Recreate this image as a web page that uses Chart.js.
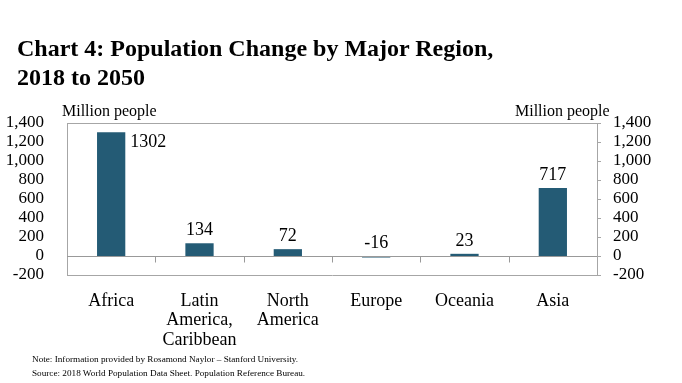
<!DOCTYPE html>
<html>
<head>
<meta charset="utf-8">
<script src="https://cdn.jsdelivr.net/npm/chart.js@4.4.0/dist/chart.umd.min.js"></script>
<style>
  html, body { margin: 0; padding: 0; background: #ffffff; }
  #wrap { position: relative; width: 682px; height: 383px; overflow: hidden; font-family: "Liberation Serif", "DejaVu Serif", serif; color: #000; }
  #chart { position: absolute; left: 0; top: 0; }
  .title { position: absolute; left: 17px; top: 34px; font-weight: bold; font-size: 24px; line-height: 29px; white-space: nowrap; }
  .unit { position: absolute; top: 102px; font-size: 16px; white-space: nowrap; }
  .note { position: absolute; left: 32px; font-size: 9.2px; white-space: nowrap; }
</style>
</head>
<body>
<div id="wrap">
  <canvas id="chart" width="682" height="383"></canvas>
  <div class="title">Chart 4: Population Change by Major Region,<br>2018 to 2050</div>
  <div class="unit" style="left:62px;">Million people</div>
  <div class="unit" style="left:515px;">Million people</div>
  <div class="note" style="top:354px;">Note: Information provided by Rosamond Naylor – Stanford University.</div>
  <div class="note" style="top:368px;">Source: 2018 World Population Data Sheet. Population Reference Bureau.</div>
</div>
<script>
const categories = [["Africa"], ["Latin", "America,", "Caribbean"], ["North", "America"], ["Europe"], ["Oceania"], ["Asia"]];
const populationChange = [1302, 134, 72, -16, 23, 717];
const tickValues = [-200, 0, 200, 400, 600, 800, 1000, 1200, 1400];

const BAR_COLOR = "#245b75";
const BOX_COLOR = "#a6a6a6";
const ZERO_COLOR = "#999999";
const FONT = "'Liberation Serif', 'DejaVu Serif', serif";

const framePlugin = {
  id: "frame",
  afterDatasetsDraw(chart) {
    const { ctx, chartArea, scales } = chart;
    const x = scales.x, y = scales.y;
    ctx.save();
    ctx.strokeStyle = BOX_COLOR;
    ctx.lineWidth = 1;
    ctx.beginPath();
    ctx.moveTo(chartArea.left, Math.round(chartArea.top) + 0.5);
    ctx.lineTo(chartArea.right, Math.round(chartArea.top) + 0.5);
    ctx.stroke();
    const y0 = Math.round(y.getPixelForValue(0)) + 0.5;
    ctx.strokeStyle = ZERO_COLOR;
    ctx.beginPath();
    ctx.moveTo(chartArea.left, y0);
    ctx.lineTo(chartArea.right, y0);
    for (let i = 1; i < categories.length; i++) {
      const bx = Math.round((x.getPixelForValue(i - 1) + x.getPixelForValue(i)) / 2) + 0.5;
      ctx.moveTo(bx, y0);
      ctx.lineTo(bx, y0 + 6);
    }
    ctx.stroke();
    ctx.fillStyle = "#000";
    ctx.font = "18px " + FONT;
    const meta = chart.getDatasetMeta(0);
    meta.data.forEach((bar, i) => {
      const v = populationChange[i];
      const top = Math.min(bar.y, bar.base);
      const txt = String(v);
      ctx.textBaseline = "middle";
      if (top - 24 < chartArea.top) {
        ctx.textAlign = "left";
        ctx.fillText(txt, bar.x + bar.width / 2 + 5, top + 10);
      } else {
        ctx.textAlign = "center";
        ctx.fillText(txt, bar.x, top - 13);
      }
    });
    ctx.restore();
  }
};

const fmt = v => v.toLocaleString("en-US");

new Chart(document.getElementById("chart"), {
  type: "bar",
  data: {
    labels: categories,
    datasets: [{
      data: populationChange,
      backgroundColor: BAR_COLOR,
      borderWidth: 0,
      categoryPercentage: 1.0,
      barPercentage: 0.32,
      yAxisID: "y"
    }]
  },
  options: {
    responsive: false,
    animation: false,
    devicePixelRatio: 1,
    layout: { padding: { left: 0, right: 0, top: 123, bottom: 0 } },
    plugins: { legend: { display: false }, tooltip: { enabled: false }, title: { display: false } },
    scales: {
      x: {
        grid: { display: false },
        border: { display: true, color: BOX_COLOR },
        ticks: { color: "#000", font: { family: FONT, size: 18, lineHeight: 1.1 }, padding: 8, maxRotation: 0, autoSkip: false },
        afterFit(scale) { scale.height = 108; }
      },
      y: {
        position: "left",
        min: -200, max: 1400,
        afterBuildTicks(scale) { scale.ticks = tickValues.map(v => ({ value: v })); },
        grid: { display: false },
        border: { display: true, color: BOX_COLOR },
        ticks: { color: "#000", font: { family: FONT, size: 17 }, padding: 15, callback: fmt, autoSkip: false },
        afterFit(scale) { scale.width = 67; }
      },
      y2: {
        position: "right",
        min: -200, max: 1400,
        afterBuildTicks(scale) { scale.ticks = tickValues.map(v => ({ value: v })); },
        grid: { display: true, drawOnChartArea: false, tickLength: 4, color: BOX_COLOR },
        border: { display: true, color: BOX_COLOR },
        ticks: { color: "#000", font: { family: FONT, size: 17 }, padding: 12, callback: fmt, autoSkip: false },
        afterFit(scale) { scale.width = 85; }
      }
    }
  },
  plugins: [framePlugin]
});
</script>
</body>
</html>
